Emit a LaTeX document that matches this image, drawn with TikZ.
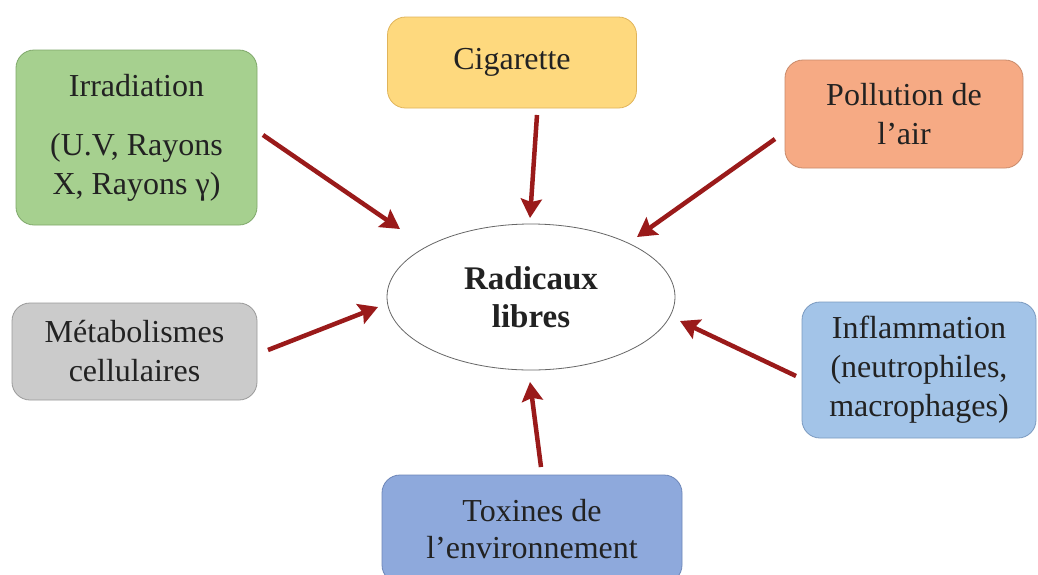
\documentclass[tikz,border=0pt]{standalone}
\usepackage{fontspec}
\setmainfont{Liberation Serif}
\usetikzlibrary{arrows.meta,shapes.geometric}
\definecolor{gfill}{HTML}{A6D08F}\definecolor{gdraw}{HTML}{7FA86A}
\definecolor{yfill}{HTML}{FED97E}\definecolor{ydraw}{HTML}{E0B45A}
\definecolor{sfill}{HTML}{F6AA84}\definecolor{sdraw}{HTML}{C98A6A}
\definecolor{kfill}{HTML}{CBCBCB}\definecolor{kdraw}{HTML}{9A9A9A}
\definecolor{bfill}{HTML}{A3C4E8}\definecolor{bdraw}{HTML}{7B9AC0}
\definecolor{tfill}{HTML}{8EA9DC}\definecolor{tdraw}{HTML}{6D86B8}
\definecolor{arrred}{HTML}{9A1A1A}
\definecolor{txt}{HTML}{222222}
\tikzset{
  box/.style={rectangle, rounded corners=18pt, line width=0.8pt, align=center,
    inner sep=0pt, text=txt, font=\fontsize{32}{39}\selectfont},
  arr/.style={draw=arrred, line width=4.5pt, -{Stealth[length=19pt,width=21pt,inset=3pt]}},
}
\begin{document}
\begin{tikzpicture}[x=1pt,y=-1pt]
\useasboundingbox (0,0) rectangle (1038,574);
\fill[white] (0,0) rectangle (1038,574);
\begin{scope}
\clip (0,0) rectangle (1038,574);
\node[box, fill=gfill, draw=gdraw, minimum width=241pt, minimum height=175pt] (irr) at (136.5,137.5)
  {Irradiation\\[20pt](U.V, Rayons\\X, Rayons γ)};
\node[box, fill=yfill, draw=ydraw, minimum width=249pt, minimum height=91pt] (cig) at (512,62.5) {Cigarette};
\node[box, fill=sfill, draw=sdraw, minimum width=238pt, minimum height=108pt] (pol) at (904,114) {Pollution de\\l’air};
\node[box, fill=kfill, draw=kdraw, minimum width=245pt, minimum height=97pt] (met) at (134.5,351.5) {Métabolismes\\cellulaires};
\node[box, fill=bfill, draw=bdraw, minimum width=234pt, minimum height=136pt] (inf) at (919,370) {Inflammation\\(neutrophiles,\\macrophages)};
\node[box, fill=tfill, draw=tdraw, minimum width=300pt, minimum height=108pt] (tox) at (532,529) {Toxines de\\[-2pt]l’environnement};
\node[ellipse, draw=gray!80!black, line width=0.8pt, fill=white, minimum width=288pt, minimum height=146pt,
  align=center, inner sep=0pt, font=\fontsize{33}{38}\selectfont\bfseries, text=txt] (rad) at (531,297) {Radicaux\\libres};
\end{scope}
\coordinate (a1s) at (263,135); \coordinate (a1e) at (400,229);
\coordinate (a2s) at (537,115); \coordinate (a2e) at (530,218);
\coordinate (a3s) at (775,139); \coordinate (a3e) at (637,237);
\coordinate (a4s) at (268,350); \coordinate (a4e) at (378,307);
\coordinate (a5s) at (796,376); \coordinate (a5e) at (680,321);
\coordinate (a6s) at (541,467); \coordinate (a6e) at (530,382);
\draw[arr] (a1s) -- (a1e);
\draw[arr] (a2s) -- (a2e);
\draw[arr] (a3s) -- (a3e);
\draw[arr] (a4s) -- (a4e);
\draw[arr] (a5s) -- (a5e);
\draw[arr] (a6s) -- (a6e);
\end{tikzpicture}
\end{document}
